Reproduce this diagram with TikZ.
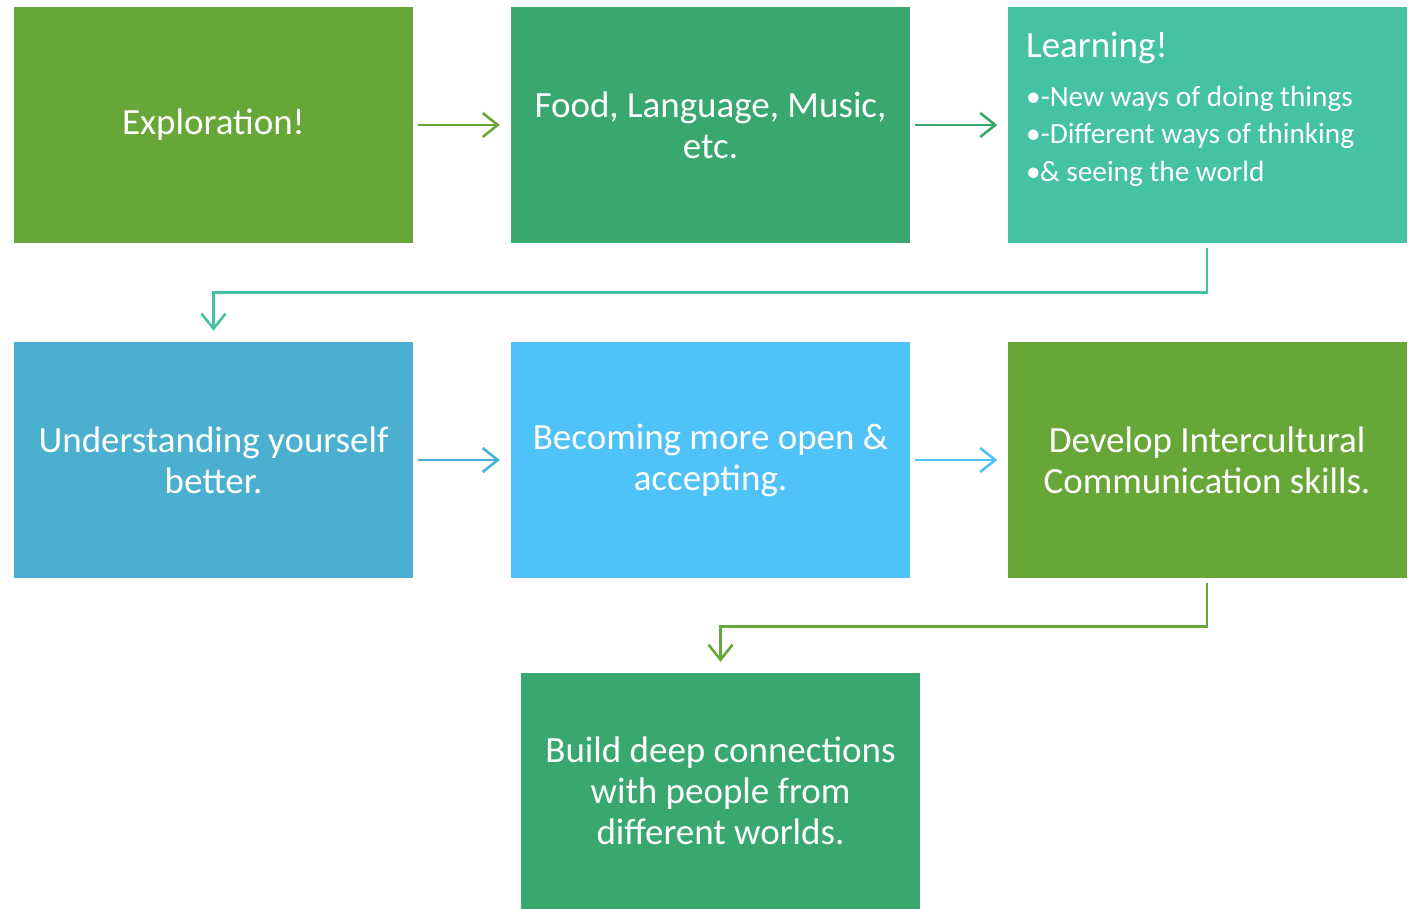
\documentclass[tikz,border=0pt]{standalone}
\usepackage{fontspec}
\setmainfont{Carlito}
\usetikzlibrary{arrows.meta}
\definecolor{grassgreen}{HTML}{66A737}
\definecolor{jade}{HTML}{38A86E}
\definecolor{seafoam}{HTML}{45C1A3}
\definecolor{steelblue}{HTML}{4BAFD0}
\definecolor{skyblue}{HTML}{4FC2F7}
\tikzset{
  box/.style={rectangle, inner sep=0pt, minimum width=399pt, minimum height=236pt,
    text=white, align=center,
    font=\fontsize{37}{41}\selectfont},
  flow/.style={line width=2.6pt, -{Straight Barb[length=15pt,width=24pt,line width=2.6pt]}},
  bullet/.style={anchor=base west, inner sep=0pt, text=white, font=\fontsize{29.3}{29.3}\selectfont}
}
\begin{document}
\begin{tikzpicture}[x=1pt,y=-1pt]
\useasboundingbox (0,0) rectangle (1408,908);
% first row
\node[box, fill=grassgreen] (explore) at (213.5,125) {Exploration!};
\node[box, fill=jade] (food) at (710.5,125) {Food, Language, Music,\\etc.};
\node[box, fill=seafoam] (learn) at (1207,125) {};
\node[bullet, font=\fontsize{37}{37}\selectfont] (learnhead) at (1026,57) {Learning!};
\node[bullet] (item1) at (1026,106) {•-New ways of doing things};
\node[bullet] (item2) at (1026,143.5) {•-Different ways of thinking};
\node[bullet] (item3) at (1026,181) {•\kern-1pt\& seeing the world};
% second row
\node[box, fill=steelblue] (self) at (213.5,460) {Understanding yourself\\better.};
\node[box, fill=skyblue] (open) at (710.5,460) {Becoming more open \&\\accepting.};
\node[box, fill=grassgreen] (skills) at (1207,460) {Develop Intercultural\\Communication skills.};
% last step
\node[box, fill=jade] (connect) at (720.5,791) {Build deep connections\\with people from\\different worlds.};
% connectors
\draw[flow, grassgreen] ([xshift=5pt]explore.east) -- ([xshift=-11pt]food.west);
\draw[flow, jade] ([xshift=5pt]food.east) -- ([xshift=-10pt]learn.west);
\draw[flow, seafoam] ([yshift=-5pt]learn.south) -- ++(0,44) -| ([yshift=11pt]self.north);
\draw[flow, steelblue] ([xshift=5pt]self.east) -- ([xshift=-11pt]open.west);
\draw[flow, skyblue] ([xshift=5pt]open.east) -- ([xshift=-10pt]skills.west);
\draw[flow, grassgreen] ([yshift=-5pt]skills.south) -- ++(0,43) -| ([yshift=11pt]connect.north);
\end{tikzpicture}
\end{document}
